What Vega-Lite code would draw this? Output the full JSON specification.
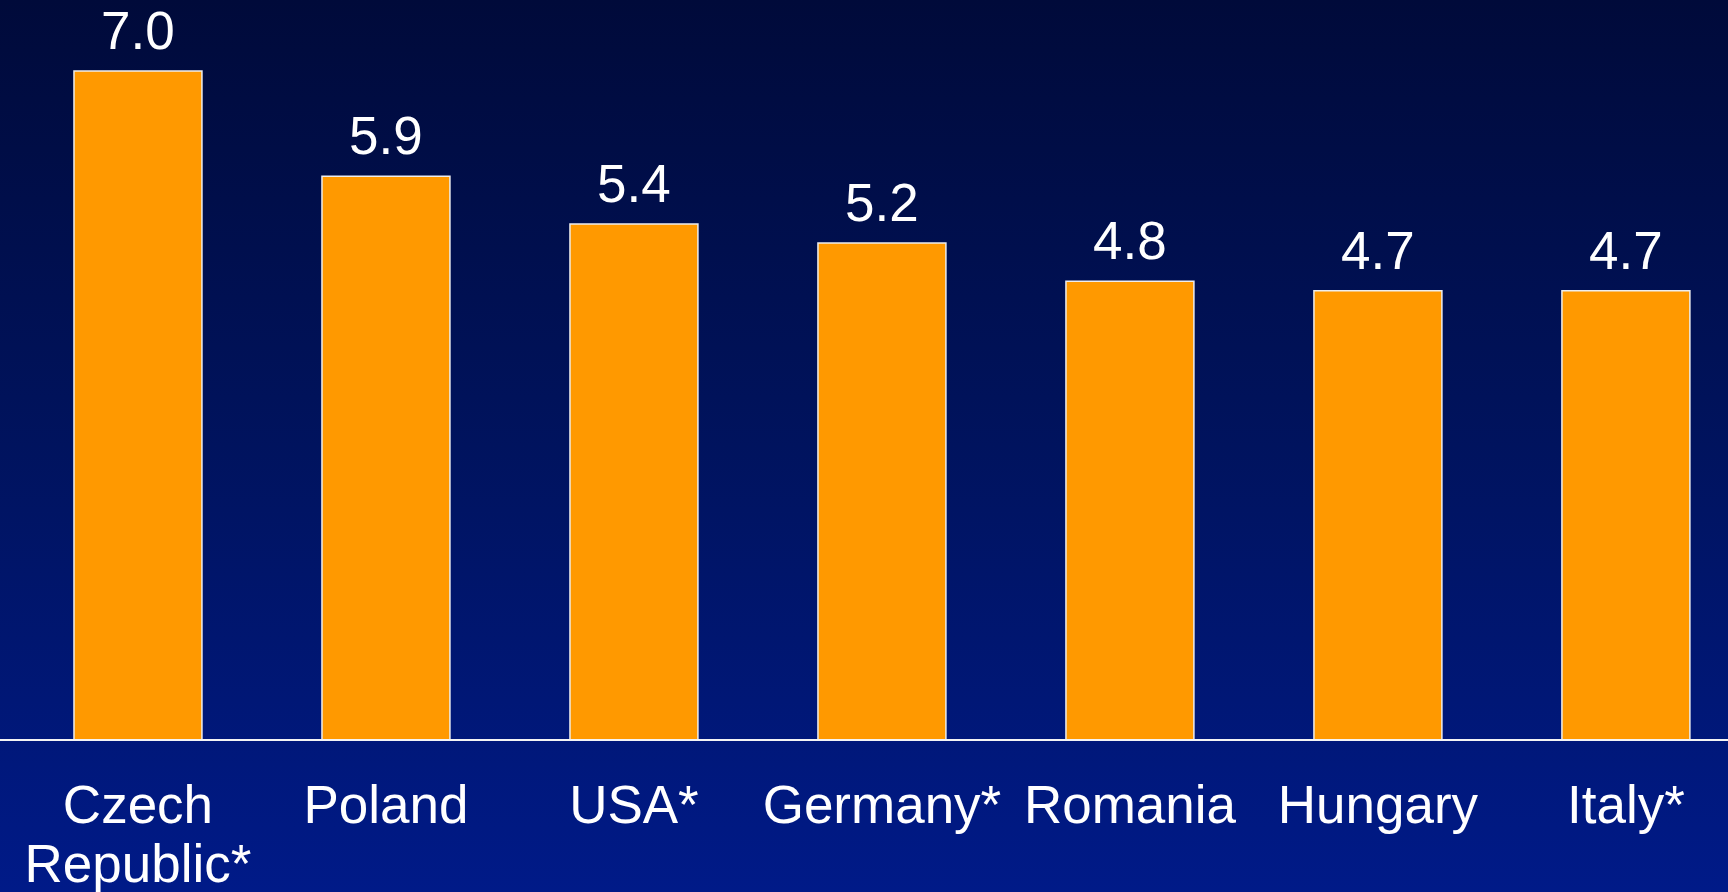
{
  "$schema": "https://vega.github.io/schema/vega-lite/v6.json",
  "autosize": {"type": "none"},
  "padding": 0,
  "width": 1728,
  "height": 892,
  "background": "#00124f",
  "config": {
    "view": {"stroke": null},
    "font": "Liberation Sans"
  },
  "data": {
    "values": [
      {"country": "Czech Republic*", "value": 7.0},
      {"country": "Poland", "value": 5.9},
      {"country": "USA*", "value": 5.4},
      {"country": "Germany*", "value": 5.2},
      {"country": "Romania", "value": 4.8},
      {"country": "Hungary", "value": 4.7},
      {"country": "Italy*", "value": 4.7}
    ]
  },
  "layer": [
    {
      "mark": {
        "type": "rect",
        "color": {
          "gradient": "linear",
          "x1": 0, "y1": 0, "x2": 0, "y2": 1,
          "stops": [
            {"offset": 0, "color": "#000a3a"},
            {"offset": 0.5, "color": "#00135e"},
            {"offset": 1, "color": "#001a88"}
          ]
        }
      },
      "encoding": {}
    },
    {
      "mark": {"type": "bar", "color": "#ff9900", "stroke": "#eeeeee", "strokeWidth": 1.5},
      "encoding": {
        "x": {
          "field": "country",
          "type": "nominal",
          "sort": null,
          "scale": {"paddingInner": 0.484, "paddingOuter": 0.226, "align": 0.66},
          "axis": null
        },
        "y": {
          "field": "value",
          "type": "quantitative",
          "scale": {"domain": [-1.5905, 7.7429], "nice": false, "zero": false},
          "axis": null
        }
      }
    },
    {
      "mark": {"type": "rule", "color": "#f4f4f4", "strokeWidth": 2},
      "encoding": {"y": {"datum": 0, "type": "quantitative"}}
    },
    {
      "mark": {
        "type": "text",
        "color": "white",
        "fontSize": 53,
        "baseline": "alphabetic",
        "align": "center",
        "dy": -22,
        "font": "Liberation Sans"
      },
      "encoding": {
        "x": {"field": "country", "type": "nominal", "sort": null, "axis": null},
        "y": {"field": "value", "type": "quantitative"},
        "text": {"field": "value", "type": "quantitative", "format": ".1f"}
      }
    },
    {
      "mark": {
        "type": "text",
        "color": "white",
        "fontSize": 53,
        "baseline": "alphabetic",
        "align": "center",
        "dy": 83,
        "lineBreak": " ",
        "lineHeight": 59,
        "font": "Liberation Sans"
      },
      "encoding": {
        "x": {"field": "country", "type": "nominal", "sort": null, "axis": null},
        "y": {"datum": 0, "type": "quantitative"},
        "text": {"field": "country", "type": "nominal"}
      }
    }
  ]
}
